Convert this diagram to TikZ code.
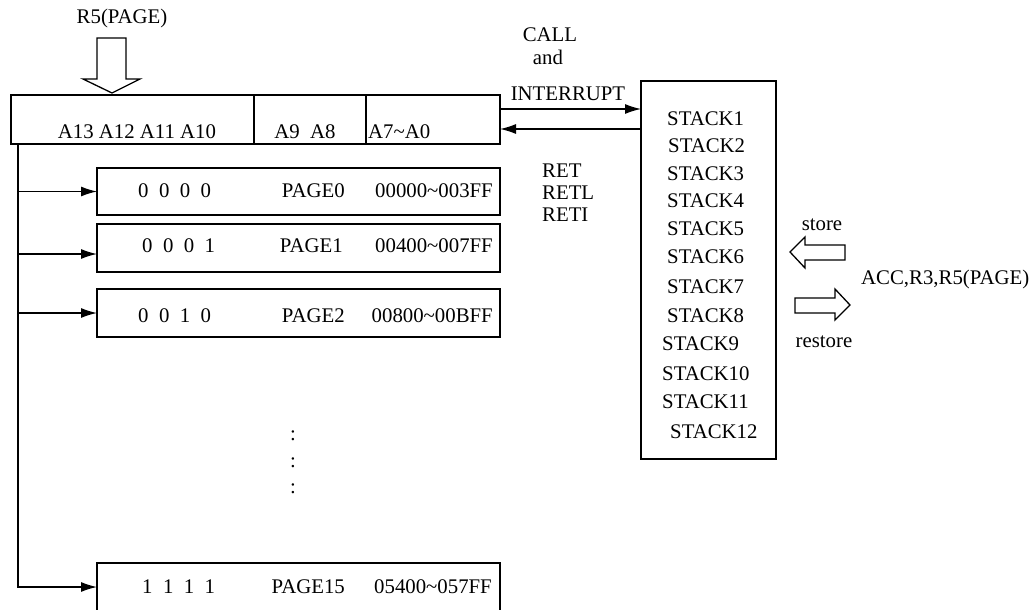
\documentclass[tikz,border=0pt]{standalone}
\usepackage{fontspec}
\setmainfont{Liberation Serif}
\usetikzlibrary{arrows.meta}
\usetikzlibrary{positioning}
\tikzset {
  box/.style = {
    draw = black,
    line width = 1.3pt,
    rectangle,
    inner sep = 0,
    outer sep = 0
  },
  % one field of the program counter
  field/.style = {
    box,
    minimum height = 49pt,
    anchor = north west
  },
  % one page of program memory
  page/.style = {
    box,
    minimum width = 403pt,
    minimum height = 48pt,
    anchor = north west
  },
  % plain text, placed on its baseline
  txt/.style = {
    inner sep = 0,
    anchor = base
  },
  ltxt/.style = {
    txt,
    anchor = base west
  },
  rtxt/.style = {
    txt,
    anchor = base east
  },
  % path style with an arrow at the end
  arr/.style = {
    draw = black,
    line width = 1.3pt,
    -{Latex[length = 16pt, width = 10pt]}
  },
  % hollow block arrow
  fat/.style = {
    draw = black,
    line width = 1.3pt,
    fill = white,
    line join = miter
  }
}

\begin{document}
\begin{tikzpicture}[x = 1pt, y = -1pt, font = \fontsize{20.8}{22}\selectfont]
    \useasboundingbox (0,0) rectangle (1034,610);

    % program counter
    \node[field, minimum width = 243pt] (hi) at (11,95) {};
    \node[field, minimum width = 112pt] (mid) at (hi.north east) {};
    \node[field, minimum width = 134pt] (lo) at (mid.north east) {};
    \node[txt] (hi-text) at (137,138) {A13 A12 A11 A10};
    \node[txt] (mid-text) at (305,138) {A9\ \ A8};
    \node[ltxt] (lo-text) at (368,138) {A7\textasciitilde A0};

    \node[txt] (r5) at (122,24) {R5(PAGE)};
    \draw[fat] (97,38) -- (126,38) -- (126,79) -- (140,79) -- (112,93)
      -- (83,79) -- (97,79) -- cycle;

    % stack
    \node[box, minimum width = 135pt, minimum height = 378pt,
      anchor = north west] (stack) at (641,81) {};
    \node[ltxt] (stack1) at (667,125) {STACK1};
    \node[ltxt] (stack2) at (668,152) {STACK2};
    \node[ltxt] (stack3) at (667,180) {STACK3};
    \node[ltxt] (stack4) at (667,207) {STACK4};
    \node[ltxt] (stack5) at (667,235) {STACK5};
    \node[ltxt] (stack6) at (667,263) {STACK6};
    \node[ltxt] (stack7) at (667,293) {STACK7};
    \node[ltxt] (stack8) at (667,322) {STACK8};
    \node[ltxt] (stack9) at (662,350) {STACK9};
    \node[ltxt] (stack10) at (662,380) {STACK10};
    \node[ltxt] (stack11) at (662,408) {STACK11};
    \node[ltxt] (stack12) at (670,438) {STACK12};

    \node[txt] (call) at (550,42) {CALL};
    \node[txt] (and) at (548,65) {and};
    \node[txt] (interrupt) at (568,100) {INTERRUPT};
    \node[ltxt] (ret) at (542,177) {RET};
    \node[ltxt] (retl) at (542,199) {RETL};
    \node[ltxt] (reti) at (542,221) {RETI};

    \draw[arr] ([yshift = 10.5pt]lo.east) -- ([yshift = 10.5pt]lo.east -| stack.west);
    \draw[arr] ([yshift = -9.5pt]lo.east -| stack.west) -- ([yshift = -9.5pt]lo.east);

    % store and restore
    \node[txt] (store) at (822,230) {store};
    \draw[fat] (790,252) -- (805,237) -- (805,245) -- (845,245) -- (845,260)
      -- (805,260) -- (805,268) -- cycle;
    \draw[fat] (850,305) -- (835,320) -- (835,313) -- (795,313) -- (795,298)
      -- (835,298) -- (835,289) -- cycle;
    \node[txt] (restore) at (824,347) {restore};
    \node[ltxt] (regs) at (861,284) {ACC,R3,R5(PAGE)};

    % pages
    \node[page, minimum height = 47pt] (page0) at (97,168) {};
    \node[ltxt] (bits0) at (138,197) {0\ \ 0\ \ 0\ \ 0};
    \node[rtxt] (name0) at (345,197) {PAGE0};
    \node[rtxt] (range0) at (493,197) {00000\textasciitilde 003FF};

    \node[page] (page1) at (97,224) {};
    \node[ltxt] (bits1) at (142,252) {0\ \ 0\ \ 0\ \ 1};
    \node[rtxt] (name1) at (343,252) {PAGE1};
    \node[rtxt] (range1) at (493,252) {00400\textasciitilde 007FF};

    \node[page] (page2) at (97,289) {};
    \node[ltxt] (bits2) at (138,322) {0\ \ 0\ \ 1\ \ 0};
    \node[rtxt] (name2) at (345,322) {PAGE2};
    \node[rtxt] (range2) at (493,322) {00800\textasciitilde 00BFF};

    \node[txt] (dots1) at (293,440) {:};
    \node[txt] (dots2) at (293,467) {:};
    \node[txt] (dots3) at (293,493) {:};

    \node[page] (page15) at (97,563) {};
    \node[ltxt] (bits15) at (142,593) {1\ \ 1\ \ 1\ \ 1};
    \node[rtxt] (name15) at (345,593) {PAGE15};
    \node[rtxt] (range15) at (492,593) {05400\textasciitilde 057FF};

    \coordinate (bus) at ([xshift = 7pt]hi.south west);
    \draw[arr] (bus) |- (page15.west);
    \draw[arr] (bus |- page0.west) -- (page0.west);
    \draw[arr] (bus |- page1.west) ++(0,6) -- ([yshift = -6pt]page1.west);
    \draw[arr] (bus |- page2.west) -- (page2.west);
  \end{tikzpicture}
\end{document}
